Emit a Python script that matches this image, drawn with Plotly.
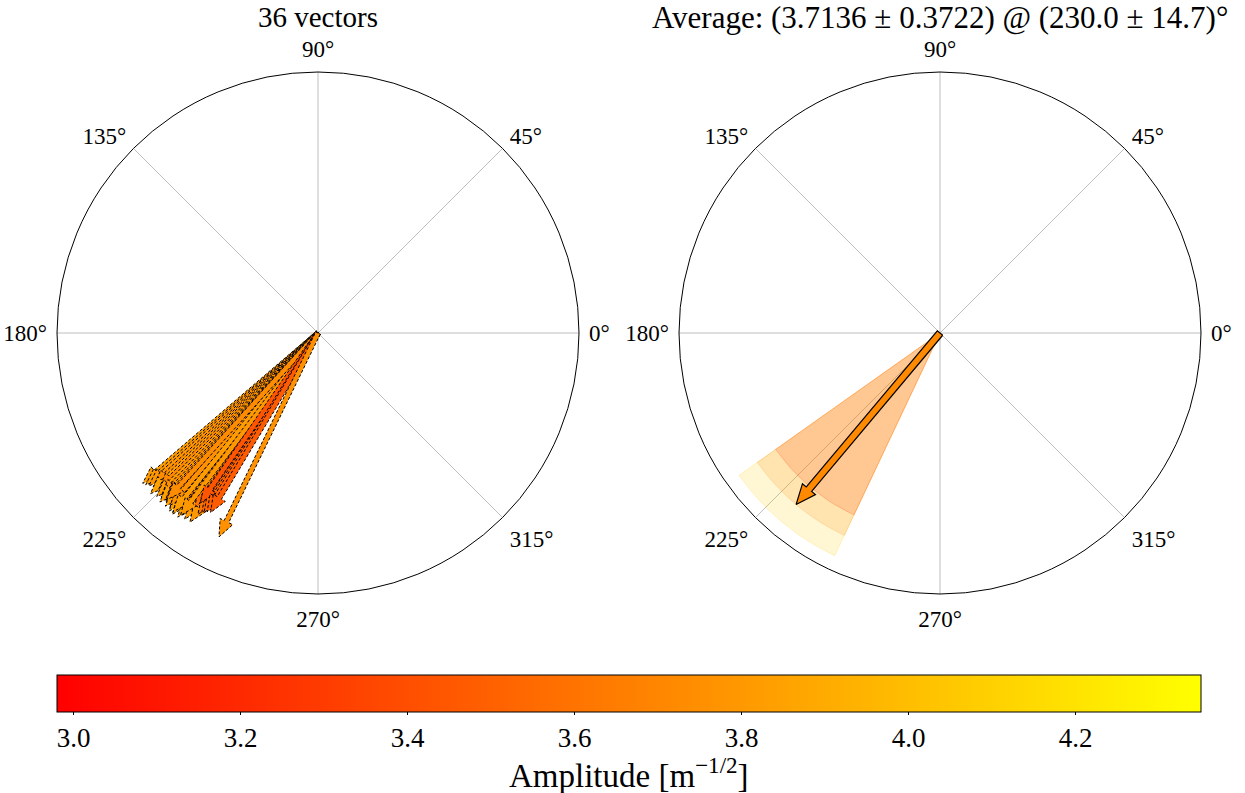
import numpy as np
import plotly.graph_objects as go

# ---------------- data ----------------
vec_angles = [220.6, 221.4, 222.1, 223.0, 223.8, 224.5, 225.4, 226.2, 226.9, 227.4,
              228.0, 228.6, 229.1, 229.7, 230.1, 230.6, 231.2, 231.7, 232.2, 232.7,
              233.3, 233.8, 234.4, 235.0, 235.9, 236.5, 237.1, 229.4, 231.0, 233.0,
              227.8, 237.6, 235.3, 238.2, 239.1, 244.1]
vec_amps = [3.83, 3.81, 3.78, 3.74, 3.85, 3.71, 3.81, 3.76, 3.84, 3.72,
            3.78, 3.83, 3.69, 3.80, 3.85, 3.74, 3.86, 3.71, 3.67, 3.84,
            3.77, 3.65, 3.80, 3.59, 3.79, 3.61, 3.55, 3.76, 3.82, 3.79,
            3.73, 3.53, 3.43, 3.49, 3.47, 3.76]
mean_amp = 3.7136
std_amp = 0.3722
mean_ang = 230.0
std_ang = 14.7
cmin, cmax = 2.98, 4.35
r_max = 4.33
ang_ticks = [0, 45, 90, 135, 180, 225, 270, 315]
ang_labels = ["0°", "45°", "90°", "135°", "180°", "225°", "270°", "315°"]
cbar_ticks = [3.0, 3.2, 3.4, 3.6, 3.8, 4.0, 4.2]
cbar_labels = ["3.0", "3.2", "3.4", "3.6", "3.8", "4.0", "4.2"]

FONT = "Liberation Serif"
W, H = 1245, 793
PX = r_max / 261.0  # data units per pixel


def autumn(v, alpha=1.0, shift=0.0):
    t = min(max((v - cmin) / (cmax - cmin) + shift, 0), 1)
    return f"rgba(255,{int(round(255 * t))},0,{alpha})"


def arrow_polar(amp, ang, w, hw, hl):
    th = np.deg2rad(ang)
    u = np.array([np.cos(th), np.sin(th)])
    n = np.array([-np.sin(th), np.cos(th)])
    L = amp
    pts = np.array([
        n * w / 2,
        u * (L - hl) + n * w / 2,
        u * (L - hl) + n * hw / 2,
        u * L,
        u * (L - hl) - n * hw / 2,
        u * (L - hl) - n * w / 2,
        -n * w / 2,
        n * w / 2,
    ])
    r = np.hypot(pts[:, 0], pts[:, 1])
    t = np.rad2deg(np.arctan2(pts[:, 1], pts[:, 0]))
    return r, t


fig = go.Figure()

# ---- left: individual vectors ----
for a, m in zip(vec_angles, vec_amps):
    r, t = arrow_polar(m, a, 5 * PX, 14 * PX, 17 * PX)
    fig.add_trace(go.Scatterpolar(
        r=r, theta=t, mode="lines", fill="toself",
        fillcolor=autumn(m), line=dict(color="black", width=1, dash="3px,2px"),
        subplot="polar", showlegend=False, hoverinfo="skip"))

# colorbar holder
fig.add_trace(go.Scatterpolar(
    r=vec_amps, theta=vec_angles, mode="markers", subplot="polar",
    marker=dict(size=1, opacity=0, color=vec_amps, cmin=cmin, cmax=cmax,
                colorscale=[[0, "rgb(255,0,0)"], [1, "rgb(255,255,0)"]],
                showscale=True,
                colorbar=dict(orientation="h", x=629 / W, xanchor="center",
                              y=1 - 675 / H, yanchor="top",
                              len=1144 / W, lenmode="fraction",
                              thickness=37, thicknessmode="pixels",
                              xpad=0, ypad=0,
                              outlinecolor="black", outlinewidth=1,
                              ticks="outside", ticklen=3, tickcolor="black",
                              tickvals=cbar_ticks, ticktext=cbar_labels,
                              tickfont=dict(family=FONT, size=27, color="black"))),
    showlegend=False, hoverinfo="skip"))

# ---- right: average with uncertainty wedges ----
bands = [(0, mean_amp + std_amp, mean_amp + std_amp),
         (0, mean_amp, mean_amp),
         (0, mean_amp - std_amp, mean_amp - std_amp)]
for base, top, cval in bands:
    fig.add_trace(go.Barpolar(
        r=[top - base], base=[base], theta=[mean_ang], width=[2 * std_ang],
        marker=dict(color=autumn(cval, 0.17), line=dict(color=autumn(cval, 0.2), width=1)),
        subplot="polar2", showlegend=False, hoverinfo="skip"))

r, t = arrow_polar(mean_amp, mean_ang, 7 * PX, 17 * PX, 20 * PX)
fig.add_trace(go.Scatterpolar(
    r=r, theta=t, mode="lines", fill="toself", fillcolor=autumn(mean_amp),
    line=dict(color="black", width=1.2), subplot="polar2",
    showlegend=False, hoverinfo="skip"))


def polar_layout(x0, x1):
    return dict(
        domain=dict(x=[x0 / W, x1 / W], y=[1 - 594 / H, 1 - 72 / H]),
        bgcolor="white",
        barmode="overlay",
        radialaxis=dict(visible=False, range=[0, r_max]),
        angularaxis=dict(direction="counterclockwise", rotation=0,
                         tickmode="array", tickvals=ang_ticks, ticktext=ang_labels,
                         ticks="outside", ticklen=5, tickcolor="rgba(0,0,0,0)",
                         showline=True, linecolor="black", linewidth=1,
                         showgrid=True, gridcolor="rgb(190,190,190)", gridwidth=1,
                         tickfont=dict(family=FONT, size=23, color="black")),
    )


fig.update_layout(
    width=W, height=H,
    margin=dict(l=0, r=0, t=0, b=0, autoexpand=False),
    paper_bgcolor="white", plot_bgcolor="white",
    polar=polar_layout(57, 579),
    polar2=polar_layout(679, 1201),
    annotations=[
        dict(text="36 vectors", x=318 / W, y=1 - 17 / H, xref="paper", yref="paper",
             xanchor="center", yanchor="middle", showarrow=False,
             font=dict(family=FONT, size=29, color="black")),
        dict(text="Average: (3.7136 ± 0.3722) @ (230.0 ± 14.7)°", x=940 / W, y=1 - 17 / H,
             xref="paper", yref="paper", xanchor="center", yanchor="middle", showarrow=False,
             font=dict(family=FONT, size=31, color="black")),
        dict(text="Amplitude [m<sup>−1/2</sup>]", x=629 / W, y=1 - 773 / H,
             xref="paper", yref="paper", xanchor="center", yanchor="middle", showarrow=False,
             font=dict(family=FONT, size=33, color="black")),
    ],
)

fig.write_html("out.html", config={"displayModeBar": False},
               post_script="document.body.style.margin='0';")
